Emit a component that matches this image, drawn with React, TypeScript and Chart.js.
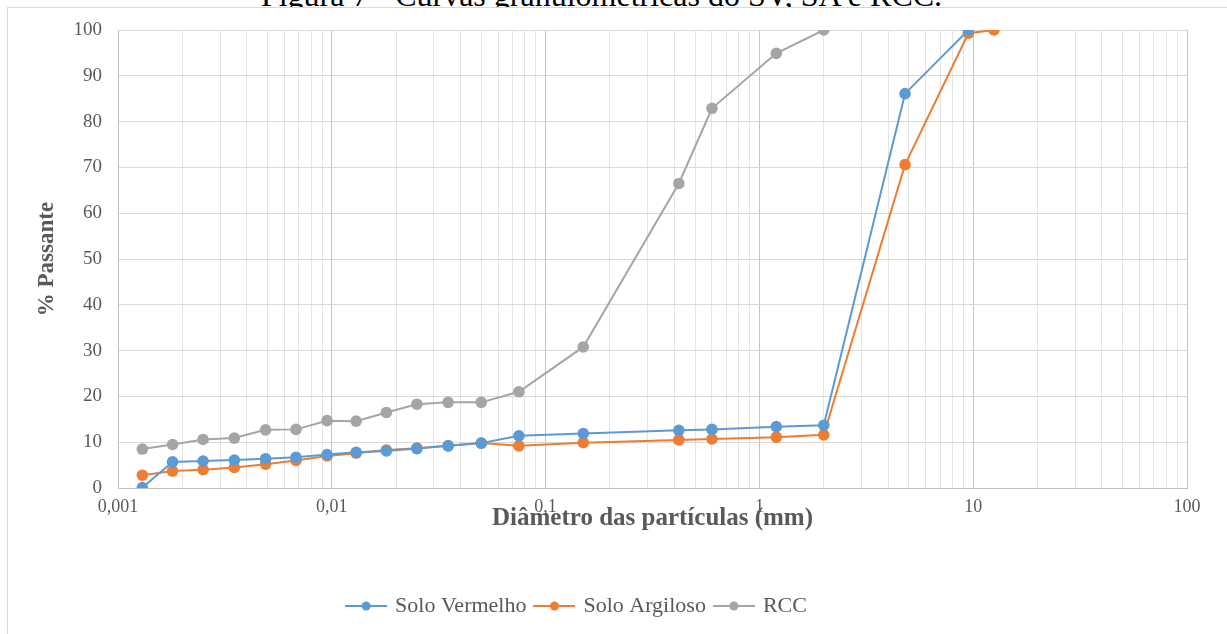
import React, { useEffect, useRef } from "react";
import { Chart, registerables } from "chart.js";

Chart.register(...registerables);

const TITLE = "Figura 7 - Curvas granulométricas do SV, SA e RCC.";
const X_TITLE = "Diâmetro das partículas (mm)";
const Y_TITLE = "% Passante";

const seriesNames = ["Solo Vermelho", "Solo Argiloso", "RCC"];
const seriesColors = ["#5B9BD5", "#ED7D31", "#A5A5A5"];

const diamSV = [0.0013, 0.0018, 0.0025, 0.0035, 0.0049, 0.0068, 0.0095, 0.013, 0.018, 0.025, 0.035, 0.05, 0.075, 0.15, 0.42, 0.6, 1.2, 2.0, 4.8, 9.5];
const passSV = [0.1, 5.7, 5.9, 6.1, 6.4, 6.7, 7.3, 7.8, 8.1, 8.6, 9.2, 9.8, 11.4, 11.9, 12.6, 12.8, 13.4, 13.7, 86.1, 100];

const diamSA = [0.0013, 0.0018, 0.0025, 0.0035, 0.0049, 0.0068, 0.0095, 0.013, 0.018, 0.025, 0.035, 0.05, 0.075, 0.15, 0.42, 0.6, 1.2, 2.0, 4.8, 9.5, 12.5];
const passSA = [2.8, 3.7, 4.0, 4.5, 5.2, 6.0, 7.0, 7.6, 8.3, 8.7, 9.2, 9.8, 9.2, 9.9, 10.5, 10.7, 11.1, 11.6, 70.6, 99.3, 100];

const diamRCC = [0.0013, 0.0018, 0.0025, 0.0035, 0.0049, 0.0068, 0.0095, 0.013, 0.018, 0.025, 0.035, 0.05, 0.075, 0.15, 0.42, 0.6, 1.2, 2.0];
const passRCC = [8.5, 9.5, 10.6, 10.9, 12.7, 12.8, 14.7, 14.6, 16.5, 18.3, 18.7, 18.7, 21.0, 30.8, 66.5, 82.9, 94.9, 100];

const xDecades = [0.001, 0.01, 0.1, 1, 10, 100];
const xTickLabels = ["0,001", "0,01", "0,1", "1", "10", "100"];
const yMin = 0;
const yMax = 100;
const yStep = 10;

const FONT = "'Liberation Serif', 'Times New Roman', serif";
const TEXT = "#595959";

function decadeIndex(v: number): number {
  return xDecades.findIndex((d) => Math.abs(d - v) / d < 1e-6);
}

function makeMarker(color: string): HTMLCanvasElement {
  const c = document.createElement("canvas");
  c.width = 42;
  c.height = 12;
  const g = c.getContext("2d")!;
  g.strokeStyle = color;
  g.lineWidth = 2;
  g.beginPath();
  g.moveTo(0, 6);
  g.lineTo(42, 6);
  g.stroke();
  g.fillStyle = color;
  g.beginPath();
  g.arc(21, 6, 4.5, 0, Math.PI * 2);
  g.fill();
  return c;
}

function toPoints(xs: number[], ys: number[]) {
  return xs.map((x, i) => ({ x, y: ys[i] }));
}

const legendShift = {
  id: "legendShift",
  afterLayout(chart: any) {
    const lg = chart.legend;
    if (lg) {
      lg.left -= 16;
      lg.right -= 16;
    }
  },
};

export default function App() {
  const ref = useRef<HTMLCanvasElement | null>(null);

  useEffect(() => {
    if (!ref.current) return;
    const markers = seriesColors.map(makeMarker);
    const data = [
      toPoints(diamSV, passSV),
      toPoints(diamSA, passSA),
      toPoints(diamRCC, passRCC),
    ];
    const chart = new Chart(ref.current, {
      type: "line",
      data: {
        datasets: data.map((d, i) => ({
          label: seriesNames[i],
          data: d,
          borderColor: seriesColors[i],
          backgroundColor: seriesColors[i],
          pointBackgroundColor: seriesColors[i],
          pointBorderColor: seriesColors[i],
          borderWidth: 2,
          pointRadius: 5.8,
          pointBorderWidth: 0,
          tension: 0,
          fill: false,
        })),
      },
      plugins: [legendShift],
      options: {
        animation: false,
        responsive: false,
        devicePixelRatio: 1,
        layout: { padding: { left: 0, right: 40, top: 30, bottom: 7 } },
        plugins: {
          tooltip: { enabled: false },
          legend: {
            position: "bottom",
            labels: {
              usePointStyle: true,
              pointStyleWidth: 36,
              padding: 10,
              color: TEXT,
              font: { family: FONT, size: 22 },
              generateLabels: (ch: any) =>
                Chart.defaults.plugins.legend.labels
                  .generateLabels(ch)
                  .map((l: any, i: number) => ({ ...l, pointStyle: markers[i] })),
            },
          },
        },
        scales: {
          x: {
            type: "logarithmic",
            min: xDecades[0],
            max: xDecades[xDecades.length - 1],
            afterBuildTicks: (scale: any) => {
              const t: { value: number }[] = [];
              for (let i = 0; i < xDecades.length - 1; i++) {
                for (let k = 1; k <= 9; k++) t.push({ value: xDecades[i] * k });
              }
              t.push({ value: xDecades[xDecades.length - 1] });
              scale.ticks = t;
            },
            afterFit: (scale: any) => {
              scale.height = 97;
            },
            grid: {
              drawTicks: false,
              color: (ctx: any) =>
                ctx.tick && decadeIndex(ctx.tick.value) >= 0 ? "#c4c4c4" : "#e4e4e4",
            },
            border: { color: "#bfbfbf" },
            ticks: {
              autoSkip: false,
              maxRotation: 0,
              padding: 8,
              color: TEXT,
              font: { family: FONT, size: 18 },
              callback: (v: any) => {
                const i = decadeIndex(Number(v));
                return i >= 0 ? xTickLabels[i] : "";
              },
            },
            title: {
              display: true,
              text: X_TITLE,
              color: TEXT,
              font: { family: FONT, size: 25, weight: "bold" },
              padding: { top: 0, bottom: 51 },
            },
          },
          y: {
            type: "linear",
            min: yMin,
            max: yMax,
            afterFit: (scale: any) => {
              scale.width = 118;
            },
            grid: { drawTicks: false, color: "#d9d9d9" },
            border: { color: "#bfbfbf" },
            ticks: {
              stepSize: yStep,
              padding: 16,
              color: TEXT,
              font: { family: FONT, size: 19 },
            },
            title: {
              display: true,
              text: Y_TITLE,
              color: TEXT,
              font: { family: FONT, size: 23, weight: "bold" },
              padding: { top: 33, bottom: 0 },
            },
          },
        },
      },
    });
    return () => chart.destroy();
  }, []);

  return (
    <div
      style={{
        position: "absolute",
        left: 0,
        top: 0,
        width: 1227,
        height: 634,
        overflow: "hidden",
        background: "#ffffff",
      }}
    >
      <div
        style={{
          position: "absolute",
          left: -12,
          width: 1227,
          top: -21,
          textAlign: "center",
          fontFamily: FONT,
          fontSize: 32,
          lineHeight: "32px",
          color: "#000",
          whiteSpace: "nowrap",
        }}
      >
        {TITLE}
      </div>
      <div
        style={{
          position: "absolute",
          left: 7,
          top: 7,
          width: 1240,
          height: 660,
          border: "1px solid #d9d9d9",
          boxSizing: "border-box",
          background: "#ffffff",
        }}
      />
      <canvas
        ref={ref}
        width={1227}
        height={634}
        style={{ position: "absolute", left: 0, top: 0, width: 1227, height: 634 }}
      />
    </div>
  );
}
